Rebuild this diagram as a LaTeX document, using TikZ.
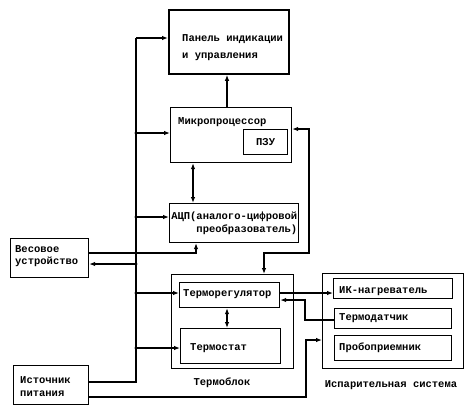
\documentclass[tikz,border=0pt]{standalone}
\usepackage{fontspec}
\setmainfont{Liberation Mono}
\usetikzlibrary{arrows.meta}
\tikzset{
  box/.style={draw, line width=1.2pt, anchor=north west, inner sep=0pt},
  txt/.style={inner sep=0pt, font=\fontsize{10.5}{13}\selectfont\bfseries},
  conn/.style={line width=1.1pt},
  arr/.style={conn, -{Latex[length=6pt,width=4.5pt]}},
  darr/.style={conn, {Latex[length=6pt,width=4.5pt]}-{Latex[length=6pt,width=4.5pt]}},
  jdot/.style={fill, circle, inner sep=0pt, minimum size=3.2pt}
}
\begin{document}
\begin{tikzpicture}[x=1pt,y=-1pt]
\useasboundingbox[fill=white] (0,0) rectangle (468,408);
% boxes
\node[box, line width=1.8pt, minimum width=120, minimum height=64] (panel) at (168,9) {};
\node[box, minimum width=121, minimum height=55] (mp) at (170,107) {};
\node[box, minimum width=44, minimum height=25] (pzu) at (243,129) {};
\node[box, minimum width=129, minimum height=39] (adc) at (169,203) {};
\node[box, minimum width=78, minimum height=39] (ves) at (10,238) {};
\node[box, minimum width=75, minimum height=39] (pwr) at (13,365) {};
\node[box, minimum width=122, minimum height=94] (tblock) at (171,274) {};
\node[box, minimum width=100, minimum height=25] (treg) at (179,282) {};
\node[box, minimum width=100, minimum height=35] (tstat) at (180,328) {};
\node[box, minimum width=141, minimum height=95] (evap) at (322,273) {};
\node[box, minimum width=119, minimum height=20] (ik) at (333,278) {};
\node[box, minimum width=117, minimum height=20] (td) at (334,308) {};
\node[box, minimum width=117, minimum height=25] (prob) at (334,335) {};
% texts
\node[txt, anchor=west, align=left, font=\fontsize{10.5}{17}\selectfont\bfseries] (panelt) at (182,48) {Панель индикации\\и управления};
\node[txt, anchor=west] (mpt) at (178,122) {Микропроцессор};
\node[txt] (pzut) at (pzu.center) {ПЗУ};
\node[txt, anchor=east, align=right] (adct) at (297.5,223.5) {АЦП(аналого-цифровой\\преобразователь)};
\node[txt, anchor=west, align=left, font=\fontsize{10.5}{12}\selectfont\bfseries] (vest) at (15,256) {Весовое\\устройство};
\node[txt, anchor=west, align=left] (pwrt) at (20,387) {Источник\\питания};
\node[txt, anchor=west] (tregt) at (183,294) {Терморегулятор};
\node[txt, anchor=west] (tstatt) at (190,348) {Термостат};
\node[txt, anchor=west] (ikt) at (339,291) {ИК-нагреватель};
\node[txt, anchor=west] (tdt) at (339,318) {Термодатчик};
\node[txt, anchor=west] (probt) at (339,348) {Пробоприемник};
\node[txt] (tblockt) at (222,383) {Термоблок};
\node[txt] (evapt) at (391,385) {Испарительная система};
% bus
\coordinate (b1) at (136,38);
\coordinate (b2) at (136,133);
\coordinate (b3) at (136,217);
\coordinate (b4) at (136,264);
\coordinate (b5) at (136,293);
\coordinate (b6) at (136,348);
\coordinate (b7) at (136,382);
\draw[conn] (pwr.east |- b7) -- (b7) -- (b1);
\draw[arr] (b1) -- (b1 -| panel.west);
\draw[arr] (b2) -- (b2 -| mp.west);
\draw[arr] (b3) -- (b3 -| adc.west);
\draw[arr] (b4) -- (b4 -| ves.east);
\draw[arr] (b5) -- (b5 -| treg.west);
\draw[arr] (b6) -- (b6 -| tstat.west);
\foreach \j in {b2,b3,b4,b5,b6} \node[jdot] at (\j) {};
% microprocessor -> panel
\coordinate (c1) at (227,0);
\draw[arr] (mp.north -| c1) -- (panel.south -| c1);
% mp <-> adc
\coordinate (c2) at (193,0);
\draw[darr] (mp.south -| c2) -- (adc.north -| c2);
% weighing device -> adc
\coordinate (a1) at (196,253);
\draw[arr] (ves.east |- a1) -- (a1) -- (a1 |- adc.south);
% feedback mp <-> thermoblock
\coordinate (f1) at (309,129);
\coordinate (f2) at (264,253);
\draw[darr] (mp.east |- f1) -- (f1) |- (f2) -- (f2 |- tblock.north);
% thermoregulator <-> thermostat
\coordinate (c3) at (227,0);
\draw[darr] (treg.south -| c3) -- (tstat.north -| c3);
% thermoregulator -> IR heater
\coordinate (r1) at (0,293);
\draw[arr] (treg.east |- r1) -- (ik.west |- r1);
% sensor -> thermoregulator
\coordinate (r2) at (305,300);
\coordinate (r3) at (0,320);
\draw[arr] (td.west |- r3) -| (r2) -- (r2 -| treg.east);
% power -> evaporation system
\coordinate (p1) at (306,397);
\coordinate (p2) at (0,340);
\draw[arr] (pwr.east |- p1) -- (p1) |- (evap.west |- p2);
\end{tikzpicture}
\end{document}
